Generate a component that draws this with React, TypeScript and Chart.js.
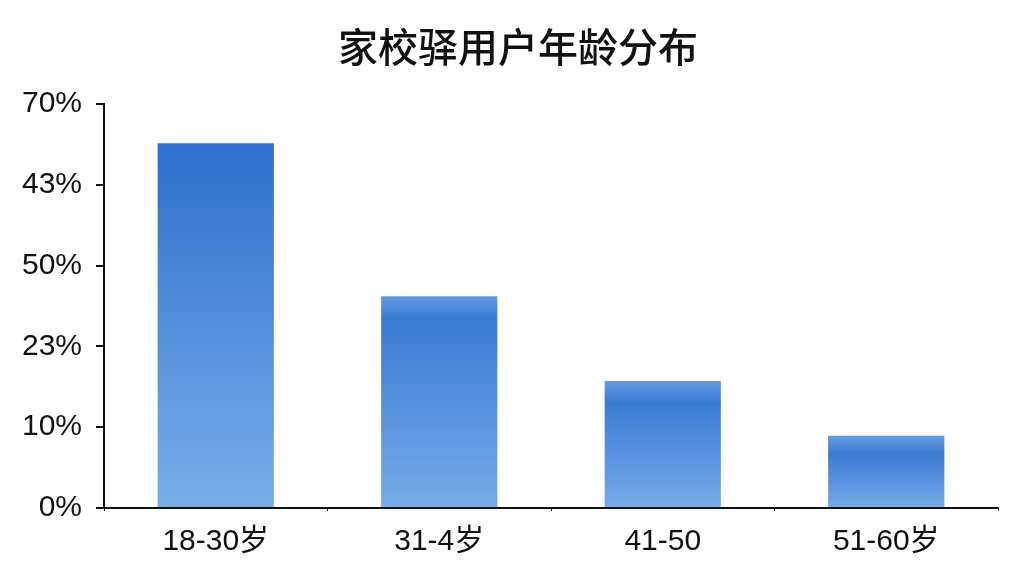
import React, { useEffect, useRef } from "react";
import { Chart, registerables } from "chart.js";

Chart.register(...registerables);

const ageGroups = ["18-30岁", "31-4岁", "41-50", "51-60岁"];
const userShare = [63.2, 36.7, 22.0, 12.5];
const yTickLabels = ["0%", "10%", "23%", "50%", "43%", "70%"];
const chartTitle = "家校驿用户年龄分布";

const FONT = "'Liberation Sans', 'Noto Sans CJK SC', sans-serif";

// title sits a bit right of the canvas centre in the reference, so draw it by hand
const titlePlugin = {
  id: "centredTitle",
  afterDraw(chart: any) {
    const c = chart.ctx;
    c.save();
    c.font = "500 40px 'Noto Sans CJK SC', sans-serif";
    c.fillStyle = "#111";
    c.textAlign = "center";
    c.textBaseline = "middle";
    c.fillText(chartTitle, 518, 47);
    c.restore();
  },
};

const App: React.FC = () => {
  const canvasRef = useRef<HTMLCanvasElement | null>(null);

  useEffect(() => {
    if (!canvasRef.current) return;

    const barFill = (ctx: any) => {
      const chart = ctx.chart;
      const area = chart.chartArea;
      if (!area || ctx.dataIndex === undefined) return "#4a87da";
      const y = chart.scales.y;
      const top = y.getPixelForValue(userShare[ctx.dataIndex]);
      const bottom = y.getPixelForValue(0);
      const g = chart.ctx.createLinearGradient(0, top, 0, bottom);
      const band = Math.min(0.25, 22 / Math.max(1, bottom - top));
      if (ctx.dataIndex === 0) {
        g.addColorStop(0, "#2e6fce");
        g.addColorStop(1, "#7aaeea");
      } else {
        g.addColorStop(0, "#649ce2");
        g.addColorStop(band, "#3a7bd5");
        g.addColorStop(1, "#78abe8");
      }
      return g;
    };

    const chart = new Chart(canvasRef.current, {
      type: "bar",
      data: {
        labels: ageGroups,
        datasets: [
          {
            label: "用户占比",
            data: userShare,
            backgroundColor: barFill,
            borderWidth: 0,
            barPercentage: 0.52,
            categoryPercentage: 1,
          },
        ],
      },
      plugins: [titlePlugin],
      options: {
        animation: false,
        responsive: true,
        maintainAspectRatio: false,
        layout: { padding: { left: 0, right: 26, top: 104, bottom: 0 } },
        plugins: {
          legend: { display: false },
          tooltip: { enabled: false },
          title: { display: false },
        },
        scales: {
          x: {
            grid: {
              display: true,
              drawOnChartArea: false,
              tickLength: 3,
              color: "#222",
              lineWidth: 1,
            },
            border: { display: true, color: "#111", width: 2 },
            ticks: {
              color: "#111",
              font: { family: FONT, size: 30 },
              padding: 13,
            },
            afterFit: (scale: any) => {
              scale.height = 68;
            },
          },
          y: {
            min: 0,
            max: 70,
            grid: {
              display: true,
              drawOnChartArea: false,
              tickLength: 8,
              color: "#111",
              lineWidth: 2,
            },
            border: { display: true, color: "#111", width: 2 },
            ticks: {
              stepSize: 14,
              color: "#111",
              font: { family: FONT, size: 30 },
              padding: 14,
              callback: (_v: any, i: number) => yTickLabels[i],
            },
            afterFit: (scale: any) => {
              scale.width = 104;
            },
          },
        },
      },
    });

    return () => {
      chart.destroy();
    };
  }, []);

  return (
    <div
      style={{
        position: "absolute",
        left: 0,
        top: 0,
        width: 1024,
        height: 576,
        background: "#fff",
      }}
    >
      <canvas ref={canvasRef} />
    </div>
  );
};

export default App;
